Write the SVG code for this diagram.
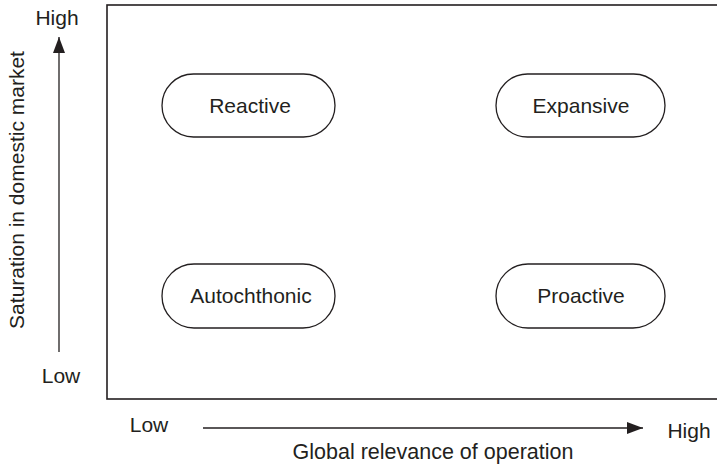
<svg xmlns="http://www.w3.org/2000/svg" width="717" height="467" viewBox="0 0 717 467">
  <style>
    text { font-family: "Liberation Sans", Arial, sans-serif; font-size: 21px; fill: #231f20; }
    .pill { fill: #fff; stroke: #231f20; stroke-width: 1.3; }
    .frame { fill: none; stroke: #231f20; stroke-width: 1.6; }
    .axis { stroke: #231f20; stroke-width: 1.3; fill: none; }
    .mid { text-anchor: middle; }
  </style>
  <defs>
    <marker id="arrow" markerWidth="16" markerHeight="12" refX="16" refY="6" orient="auto" markerUnits="userSpaceOnUse">
      <path d="M0,0 L16,6 L0,12 Z" fill="#231f20"/>
    </marker>
  </defs>
  <rect width="717" height="467" fill="#fff"/>

  <!-- quadrant frame -->
  <rect class="frame" x="107" y="5" width="614" height="394"/>

  <g id="connectors">
    <line class="axis" x1="59" y1="352" x2="59" y2="37" marker-end="url(#arrow)"/>
    <line class="axis" x1="203" y1="428" x2="643" y2="428" marker-end="url(#arrow)"/>
  </g>

  <g id="axis-labels">
    <text class="mid" x="57" y="25">High</text>
    <text class="mid" x="61" y="383">Low</text>
    <text class="mid" x="149" y="432">Low</text>
    <text class="mid" x="689" y="438">High</text>
    <text class="mid" x="433" y="459" style="font-size:21.5px">Global relevance of operation</text>
    <text class="mid" transform="translate(24,190) rotate(-90)">Saturation in domestic market</text>
  </g>

  <g id="reactive">
    <rect class="pill" x="162" y="74" width="173" height="63" rx="31.5"/>
    <text class="mid" x="250" y="113">Reactive</text>
  </g>
  <g id="expansive">
    <rect class="pill" x="496" y="74" width="169" height="63" rx="31.5"/>
    <text class="mid" x="581" y="113">Expansive</text>
  </g>
  <g id="autochthonic">
    <rect class="pill" x="162" y="264" width="173" height="64" rx="32"/>
    <text class="mid" x="251" y="303">Autochthonic</text>
  </g>
  <g id="proactive">
    <rect class="pill" x="496" y="264" width="169" height="64" rx="32"/>
    <text class="mid" x="581" y="303">Proactive</text>
  </g>
</svg>
